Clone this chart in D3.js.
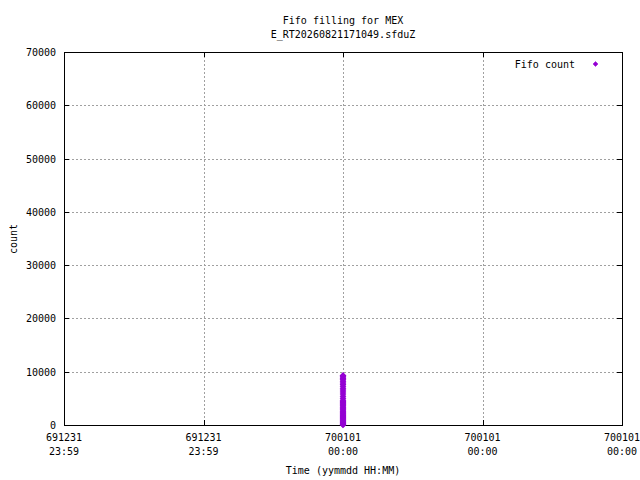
<!DOCTYPE html>
<html><head><meta charset="utf-8">
<script src="https://cdn.jsdelivr.net/npm/d3@7"></script>
<style>body{margin:0;background:#fff}svg{display:block}text{font-family:"DejaVu Sans Mono",monospace;font-size:10px;fill:#000}</style>
</head><body>
<script>
const titleLines = ["Fifo filling for MEX", "E_RT20260821171049.sfduZ"];
const xLabel = "Time (yymmdd HH:MM)";
const yLabel = "count";
const seriesName = "Fifo count";
// time offsets in ms from 1970-01-01 00:00 UTC
const xDomain = [-1000, 1000];
const xTicks = [-1000, -500, 0, 500, 1000];
const yDomain = [0, 70000];
const yTicks = [0, 10000, 20000, 30000, 40000, 50000, 60000, 70000];
const pointTimes = [0,0,0,0,0,0,0,0,0,0,0,0,0,0,0,0,0,0,0,0,0,0,0,0,0,0,0,0,0,0,0,0,0,0,0,0,0,0,0,0];
const pointCounts = [0,150,300,450,600,800,1000,1200,1400,1600,1800,2000,2200,2400,2600,2800,3000,3200,3400,3600,3800,4000,4200,4400,4650,5000,5400,5800,6200,6550,6900,7250,7600,7900,8200,8500,8750,9000,9200,9300];

const W = 640, H = 480;
const m = {left: 64, right: 622, top: 52, bottom: 425};
const svg = d3.select("body").append("svg").attr("width", W).attr("height", H);
const x = d3.scaleUtc().domain(xDomain.map(d => new Date(d))).range([m.left, m.right]);
const y = d3.scaleLinear().domain(yDomain).range([m.bottom, m.top]);
const fDate = d3.utcFormat("%y%m%d"), fTime = d3.utcFormat("%H:%M");

// grid
const grid = svg.append("g").attr("stroke", "#a0a0a0").attr("stroke-dasharray", "2,2").attr("shape-rendering", "crispEdges");
xTicks.slice(1, -1).forEach(t => {
  const px = Math.round(x(new Date(t))) + 0.5;
  grid.append("line").attr("x1", px).attr("x2", px).attr("y1", m.top).attr("y2", m.bottom);
});
yTicks.slice(1, -1).forEach(t => {
  const py = Math.round(y(t)) + 0.5;
  grid.append("line").attr("x1", m.left).attr("x2", m.right).attr("y1", py).attr("y2", py);
});

// axes with inward ticks, mirrored
const tk = 5;
const axB = d3.axisBottom(x).tickValues(xTicks.map(d => new Date(d))).tickSize(-tk).tickFormat("");
const axT = d3.axisTop(x).tickValues(xTicks.map(d => new Date(d))).tickSize(-tk).tickFormat("");
const axL = d3.axisLeft(y).tickValues(yTicks).tickSize(-tk).tickFormat("");
const axR = d3.axisRight(y).tickValues(yTicks).tickSize(-tk).tickFormat("");
[[axB, `translate(0,${m.bottom})`], [axT, `translate(0,${m.top})`], [axL, `translate(${m.left},0)`], [axR, `translate(${m.right},0)`]].forEach(([a, tr]) => {
  const g = svg.append("g").attr("transform", tr).call(a);
  g.select(".domain").remove();
  g.selectAll("line").attr("stroke", "#000").attr("shape-rendering", "crispEdges");
});
svg.append("rect").attr("x", m.left + 0.5).attr("y", m.top + 0.5).attr("width", m.right - m.left).attr("height", m.bottom - m.top)
  .attr("fill", "none").attr("stroke", "#000").attr("shape-rendering", "crispEdges");

// tick labels
yTicks.forEach(t => {
  svg.append("text").attr("x", m.left - 8).attr("y", y(t) + 4).attr("text-anchor", "end").text(d3.format("d")(t));
});
xTicks.forEach(t => {
  const d = new Date(t), px = x(d);
  svg.append("text").attr("x", px).attr("y", 441).attr("text-anchor", "middle").text(fDate(d));
  svg.append("text").attr("x", px).attr("y", 455).attr("text-anchor", "middle").text(fTime(d));
});

// titles and labels
titleLines.forEach((t, i) => svg.append("text").attr("x", 343).attr("y", 24 + i * 14).attr("text-anchor", "middle").text(t));
svg.append("text").attr("x", 343).attr("y", 474).attr("text-anchor", "middle").text(xLabel);
svg.append("text").attr("transform", "translate(17,239) rotate(-90)").attr("text-anchor", "middle").text(yLabel);

// points
const color = "#9400d3";
const marker = "M0,-2.5L2.5,0L0,2.5L-2.5,0Z";
svg.append("g").selectAll("path").data(pointCounts.map((c, i) => [pointTimes[i], c])).join("path")
  .attr("transform", d => `translate(${x(new Date(d[0]))},${y(d[1])})`)
  .attr("d", marker).attr("fill", color).attr("stroke", color).attr("stroke-width", 1.2);

// legend
svg.append("text").attr("x", 575).attr("y", 68).attr("text-anchor", "end").text(seriesName);
svg.append("path").attr("transform", "translate(595.5,64)").attr("d", marker).attr("fill", color).attr("stroke", color).attr("stroke-width", 0.5);
</script>
</body></html>
